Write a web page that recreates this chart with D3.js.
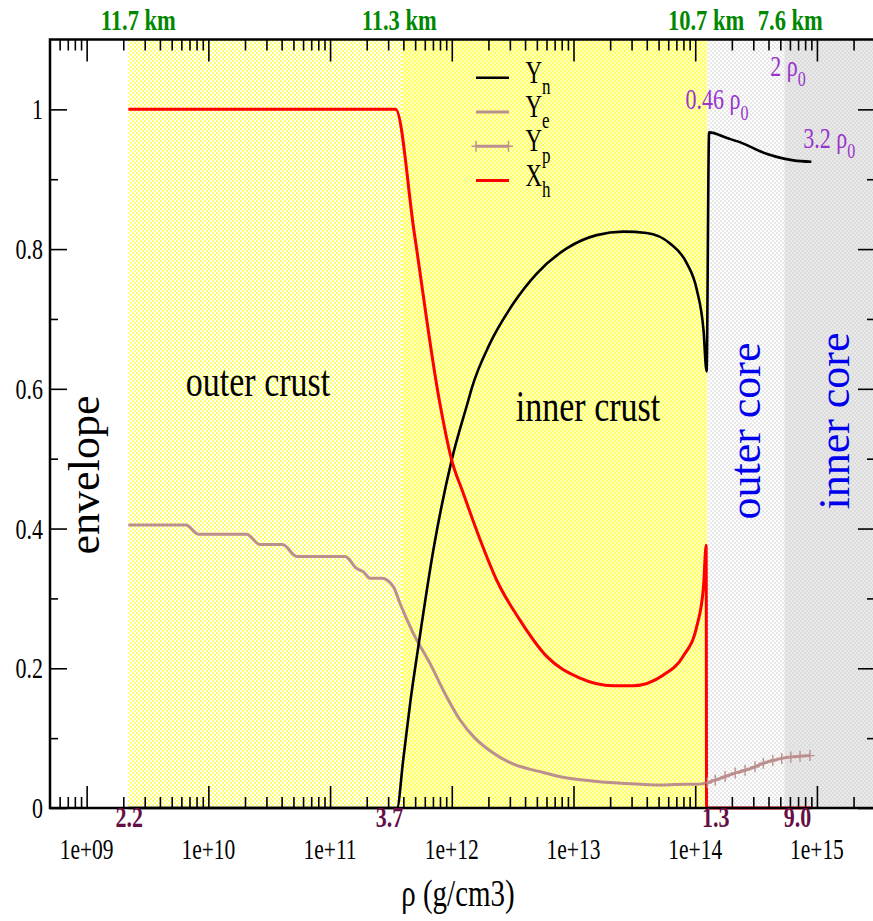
<!DOCTYPE html>
<html lang="en">
<head>
<meta charset="UTF-8">
<title>Neutron star composition</title>
<script src="https://cdnjs.cloudflare.com/ajax/libs/d3/7.8.5/d3.min.js"></script>
<style>
    body { margin: 0; background: #fff; }
    svg { display: block; font-family: "Liberation Serif", "Times New Roman", serif; }
</style>
</head>
<body>
<svg id="chart" width="873" height="921"></svg>
<script>
// ---- data (density in g/cm3) ----
const ynRho = [2.2e9, 3.55e11, 3.99e11, 4.59e11, 5.31e11, 7.05e11, 9.98e11, 1.37e12, 1.46e12, 2.06e12,
               3.2e12, 4.99e12, 8.8e12, 1.55e13, 2.57e13, 3.99e13, 6.21e13, 8.51e13, 1.03e14, 1.17e14, 1.24e14,
               1.3e14, 1.82e14, 2.49e14, 3.41e14, 4.67e14, 6.4e14, 9.0e14];
const ynVal = [0, 0, 0.069, 0.155, 0.231, 0.369, 0.498, 0.584, 0.601, 0.665,
               0.722, 0.765, 0.801, 0.820, 0.825, 0.823, 0.808, 0.780, 0.742, 0.684, 0.625,
               0.967, 0.959, 0.951, 0.940, 0.932, 0.927, 0.925];

const yeRho = [2.2e9, 6.55e9, 8.26e9, 2.06e10, 2.66e10, 4.08e10, 5.32e10, 1.33e11, 1.65e11, 1.88e11,
               2.13e11, 2.66e11, 3.31e11, 3.75e11, 4.83e11, 6.62e11, 9.09e11, 1.17e12, 1.55e12, 2.06e12,
               3.18e12, 5.3e12, 8.2e12, 1.37e13, 2.11e13, 3.52e13, 5.45e13, 8.25e13, 1.04e14, 1.25e14];
const yeVal = [0.405, 0.405, 0.392, 0.392, 0.377, 0.377, 0.360, 0.360, 0.343, 0.338,
               0.329, 0.329, 0.317, 0.293, 0.250, 0.207, 0.159, 0.126, 0.100, 0.082,
               0.063, 0.052, 0.044, 0.039, 0.036, 0.034, 0.033, 0.034, 0.034, 0.036];

const ypRho = [1.26e14, 1.46e14, 1.76e14, 2.13e14, 2.57e14, 3.1e14, 3.63e14, 4.34e14, 5.14e14, 6.1e14, 7.26e14, 8.77e14];
const ypVal = [0.036, 0.040, 0.045, 0.050, 0.054, 0.059, 0.064, 0.068, 0.071, 0.073, 0.074, 0.075];

const xhRho = [2.2e9, 3.46e11, 4.92e11, 7.89e11, 9.98e11, 1.24e12, 1.71e12, 2.34e12, 3.63e12, 6.02e12,
               1.13e13, 2.12e13, 3.08e13, 5.44e13, 7.94e13, 1.03e14, 1.17e14, 1.23e14, 1.24e14, 9.0e14];
const xhVal = [1, 1, 0.823, 0.584, 0.498, 0.451, 0.384, 0.326, 0.269, 0.217,
               0.186, 0.175, 0.175, 0.190, 0.217, 0.260, 0.317, 0.376, 0, 0];

const seriesNames = ["Yn", "Ye", "Yp", "Xh"];

const regionNames = ["envelope", "outer crust", "inner crust", "outer core", "inner core"];
const regionStart = [5e8, 2.2e9, 3.9e11, 1.26e14, 5.4e14];
const regionEnd = [2.2e9, 3.9e11, 1.26e14, 5.4e14, 3e15];

const xMajorTicks = [1e9, 1e10, 1e11, 1e12, 1e13, 1e14, 1e15];
const xTickLabels = ["1e+09", "1e+10", "1e+11", "1e+12", "1e+13", "1e+14", "1e+15"];
const yMajorTicks = [0, 0.2, 0.4, 0.6, 0.8, 1];
const yTickLabels = ["0", "0.2", "0.4", "0.6", "0.8", "1"];

const kmLabels = ["11.7 km", "11.3 km", "10.7 km", "7.6 km"];
const kmRho = [2.2e9, 3.7e11, 1.3e14, 5.4e14];
const boundLabels = ["2.2", "3.7", "1.3", "9.0"];
const boundRho = [2.2e9, 3.7e11, 1.3e14, 9.0e14];
const rho0Labels = ["0.46", "2", "3.2"];
const rho0Rho = [1.24e14, 5.4e14, 8.64e14];
const rho0Val = [1.0, 1.048, 0.945];

// ---- setup ----
const SY = 1.33; // the original text is drawn vertically stretched
const svg = d3.select("#chart");
const x = d3.scaleLog().domain([5e8, 3e15]).range([50, 875]);
const y = d3.scaleLinear().domain([0, 1.1]).range([808, 39.5]);

const defs = svg.append("defs");
function dotPattern(id, bg, dot) {
    const p = defs.append("pattern").attr("id", id)
        .attr("width", 4).attr("height", 4).attr("patternUnits", "userSpaceOnUse");
    p.append("rect").attr("width", 4).attr("height", 4).attr("fill", bg);
    p.append("circle").attr("cx", 1).attr("cy", 1).attr("r", 0.9).attr("fill", dot);
    p.append("circle").attr("cx", 3).attr("cy", 3).attr("r", 0.9).attr("fill", dot);
}
dotPattern("pEnv", "#ffffff", "#ffffff");
dotPattern("pOuterCrust", "#ffffff", "#ffff30");
dotPattern("pInnerCrust", "#ffff66", "#fffff0");
dotPattern("pOuterCore", "#ffffff", "#dddddd");
dotPattern("pInnerCore", "#e9e9e9", "#d6d6d6");
const regionFill = ["url(#pEnv)", "url(#pOuterCrust)", "url(#pInnerCrust)", "url(#pOuterCore)", "url(#pInnerCore)"];

svg.append("rect").attr("width", 873).attr("height", 921).attr("fill", "#fff");

// background regions
svg.append("g").selectAll("rect")
    .data(regionNames)
    .join("rect")
    .attr("x", (d, i) => x(regionStart[i]))
    .attr("width", (d, i) => x(regionEnd[i]) - x(regionStart[i]))
    .attr("y", y(1.1))
    .attr("height", y(0) - y(1.1))
    .attr("fill", (d, i) => regionFill[i]);

// region labels
const regionLabelX = [99, 258, 588, 759.5, 848.5];
const regionLabelY = [475, 396, 421, 431, 421];
const regionRotated = [true, false, false, true, true];
const regionColor = ["#000", "#000", "#000", "#0000ee", "#0000ee"];
svg.append("g").selectAll("text")
    .data(regionNames)
    .join("text")
    .attr("transform", (d, i) => regionRotated[i]
        ? `translate(${regionLabelX[i]},${regionLabelY[i]}) rotate(-90)`
        : `translate(${regionLabelX[i]},${regionLabelY[i]}) scale(1,${SY})`)
    .attr("text-anchor", "middle")
    .attr("font-size", (d, i) => regionRotated[i] ? 44 : 34)
    .attr("fill", (d, i) => regionColor[i])
    .text(d => d);

// ---- axes (ticks pointing inwards) ----
const minorX = [];
for (let e = 8; e <= 15; e++) {
    for (let k = 2; k <= 9; k++) {
        const v = k * Math.pow(10, e);
        if (v > 5e8 && v < 3e15) minorX.push(v);
    }
}
const minorY = [0.1, 0.3, 0.5, 0.7, 0.9];

function styleAxis(g) {
    g.select(".domain").remove();
    g.selectAll("line").attr("stroke", "#000").attr("stroke-width", 1.6);
}
svg.append("g").attr("transform", `translate(0,${y(0)})`)
    .call(d3.axisBottom(x).tickValues(xMajorTicks).tickSize(-22).tickFormat("")).call(styleAxis);
svg.append("g").attr("transform", `translate(0,${y(0)})`)
    .call(d3.axisBottom(x).tickValues(minorX).tickSize(-11).tickFormat("")).call(styleAxis);
svg.append("g").attr("transform", `translate(0,${y(1.1)})`)
    .call(d3.axisTop(x).tickValues(xMajorTicks).tickSize(-22).tickFormat("")).call(styleAxis);
svg.append("g").attr("transform", `translate(0,${y(1.1)})`)
    .call(d3.axisTop(x).tickValues(minorX).tickSize(-11).tickFormat("")).call(styleAxis);
svg.append("g").attr("transform", `translate(${x.range()[0]},0)`)
    .call(d3.axisLeft(y).tickValues(yMajorTicks).tickSize(-17).tickFormat("")).call(styleAxis);
svg.append("g").attr("transform", `translate(${x.range()[0]},0)`)
    .call(d3.axisLeft(y).tickValues(minorY).tickSize(-8).tickFormat("")).call(styleAxis);
svg.append("g").attr("transform", `translate(${x.range()[1]},0)`)
    .call(d3.axisRight(y).tickValues(yMajorTicks).tickSize(-17).tickFormat("")).call(styleAxis);
svg.append("g").attr("transform", `translate(${x.range()[1]},0)`)
    .call(d3.axisRight(y).tickValues(minorY).tickSize(-8).tickFormat("")).call(styleAxis);

// tick labels
svg.append("g").selectAll("text")
    .data(xMajorTicks)
    .join("text")
    .attr("transform", d => `translate(${x(d)},859) scale(1,${SY})`)
    .attr("text-anchor", "middle")
    .attr("font-size", 21.5)
    .text((d, i) => xTickLabels[i]);
svg.append("g").selectAll("text")
    .data(yMajorTicks)
    .join("text")
    .attr("transform", d => `translate(43,${y(d) + 10}) scale(1,${SY})`)
    .attr("text-anchor", "end")
    .attr("font-size", 22)
    .text((d, i) => yTickLabels[i]);

svg.append("text")
    .attr("transform", `translate(458,906) scale(1,${SY})`)
    .attr("text-anchor", "middle")
    .attr("font-size", 29)
    .text("ρ (g/cm3)");

// ---- series ----
const line = d3.line().x(d => x(d[0])).y(d => y(d[1])).curve(d3.curveMonotoneX);
const seriesColor = ["#000000", "#bc8f8f", "#bc8f8f", "#ff0000"];
const seriesWidth = [2.6, 3, 3, 3];
const seriesData = [d3.zip(ynRho, ynVal), d3.zip(yeRho, yeVal), d3.zip(ypRho, ypVal), d3.zip(xhRho, xhVal)];
const plusPath = "M-4.5,0H4.5M0,-5.5V5.5";

svg.append("g").selectAll("path")
    .data([1, 2, 0, 3])
    .join("path")
    .attr("d", i => line(seriesData[i]))
    .attr("fill", "none")
    .attr("stroke", i => seriesColor[i])
    .attr("stroke-width", i => seriesWidth[i])
    .attr("stroke-linejoin", "round");

svg.append("g").selectAll("path")
    .data(seriesData[2])
    .join("path")
    .attr("transform", d => `translate(${x(d[0])},${y(d[1])})`)
    .attr("d", plusPath)
    .attr("stroke", seriesColor[2])
    .attr("stroke-width", 1.4);

// frame
svg.append("rect")
    .attr("x", x.range()[0]).attr("y", y(1.1))
    .attr("width", x.range()[1] - x.range()[0]).attr("height", y(0) - y(1.1))
    .attr("fill", "none").attr("stroke", "#000").attr("stroke-width", 2.5);

// ---- legend ----
const legend = svg.append("g");
seriesNames.forEach((name, i) => {
    const ly = 77.7 + i * 34.3;
    legend.append("line")
        .attr("x1", 476).attr("x2", 509).attr("y1", ly).attr("y2", ly)
        .attr("stroke", seriesColor[i]).attr("stroke-width", seriesWidth[i]);
    if (i === 2) {
        [476, 508.5].forEach(mx => legend.append("path")
            .attr("transform", `translate(${mx},${ly})`)
            .attr("d", plusPath).attr("stroke", seriesColor[i]).attr("stroke-width", 1.4));
    }
    const t = legend.append("text")
        .attr("transform", `translate(525.5,${ly + 5}) scale(1,${SY})`)
        .attr("font-size", 23);
    t.append("tspan").text(name[0]);
    t.append("tspan").attr("font-size", 17).attr("dy", 8.5).text(name.slice(1));
});

// ---- annotations ----
const kmDx = [10, 0, -3, 6];
svg.append("g").selectAll("text")
    .data(kmLabels)
    .join("text")
    .attr("transform", (d, i) => `translate(${x(kmRho[i]) + kmDx[i]},30) scale(1,${SY})`)
    .attr("text-anchor", "middle")
    .attr("font-size", 22.5)
    .attr("font-weight", "bold")
    .attr("fill", "#008800")
    .text(d => d);

const boundAnchor = ["middle", "end", "start", "end"];
const boundDx = [1, 4, -7, 0];
svg.append("g").selectAll("text")
    .data(boundLabels)
    .join("text")
    .attr("transform", (d, i) => `translate(${x(boundRho[i]) + boundDx[i]},${y(0) + 19}) scale(1,${SY})`)
    .attr("text-anchor", (d, i) => boundAnchor[i])
    .attr("font-size", 22)
    .attr("font-weight", "bold")
    .attr("fill", "#650f45")
    .text(d => d);

const rho0Dx = [-21, -14, -6];
rho0Labels.forEach((lab, i) => {
    const t = svg.append("text")
        .attr("transform", `translate(${x(rho0Rho[i]) + rho0Dx[i]},${y(rho0Val[i])}) scale(1,${SY})`)
        .attr("font-size", 22)
        .attr("fill", "#9933cc");
    t.append("tspan").text(lab + " ρ");
    t.append("tspan").attr("font-size", 16).attr("dy", 8).text("0");
});
</script>
</body>
</html>
